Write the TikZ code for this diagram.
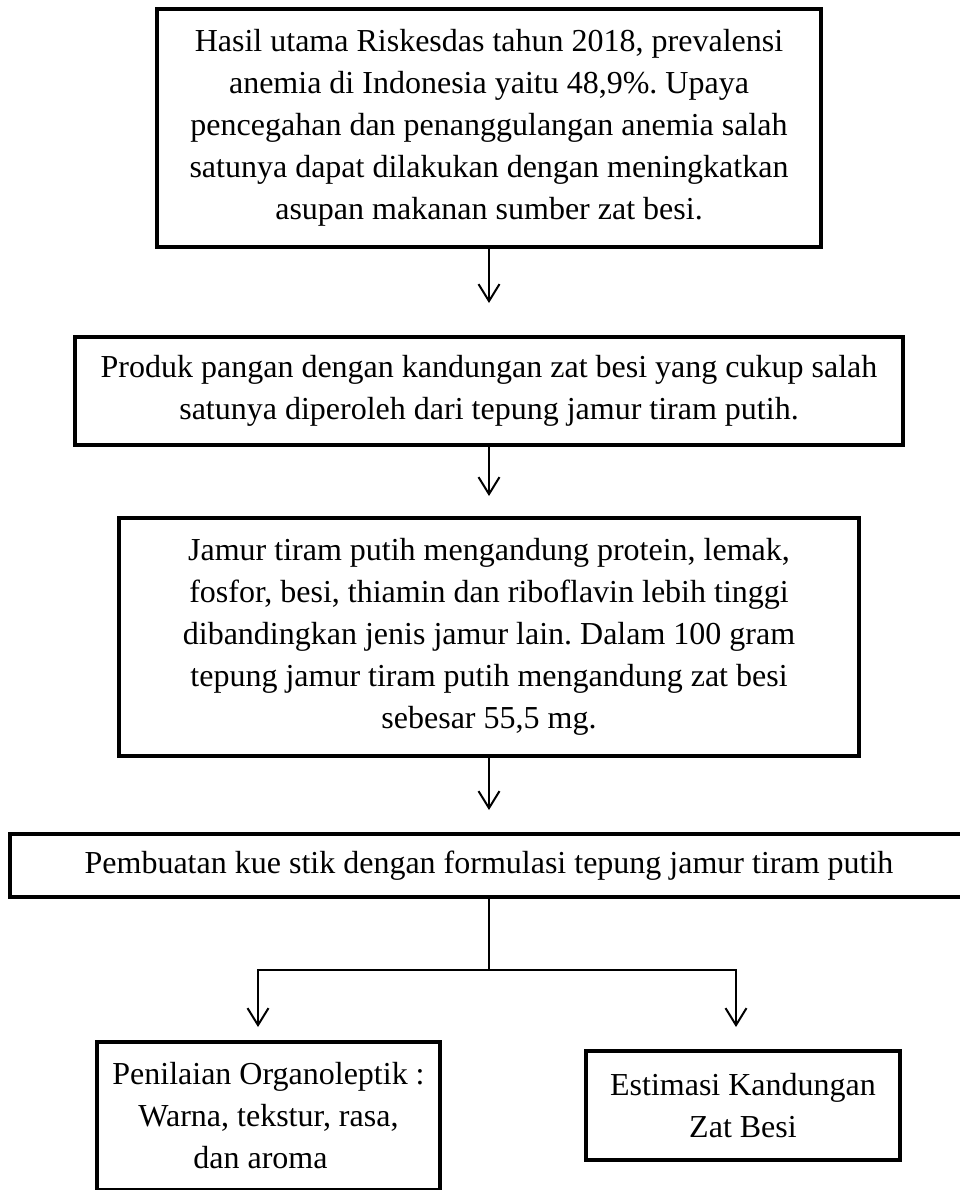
\documentclass[tikz,border=0pt]{standalone}
\usepackage{fontspec}
\setmainfont{Liberation Serif}
\usetikzlibrary{arrows.meta,positioning}
\frenchspacing

\begin{document}
\begin{tikzpicture}[x=1pt, y=-1pt,
    box/.style={draw, line width=4pt, align=center, inner sep=0pt,
      font=\fontsize{32}{42}\selectfont},
    flow/.style={line width=2pt, -{Straight Barb[length=17pt, width=21pt]}},
    link/.style={line width=2pt}]
  \useasboundingbox (0,0) rectangle (960,1190);
  % Main chain of boxes
  \node[box, minimum width=664pt, minimum height=238pt] (riskesdas) at (489,128)
    {Hasil utama Riskesdas tahun 2018, prevalensi\\ anemia di Indonesia yaitu 48,9\%. Upaya\\
     pencegahan dan penanggulangan anemia salah\\ satunya dapat dilakukan dengan meningkatkan\\
     asupan makanan sumber zat besi.};
  \node[box, minimum width=828pt, minimum height=108pt] (produk) at (489,391)
    {Produk pangan dengan kandungan zat besi yang cukup salah\\ satunya diperoleh dari tepung jamur tiram putih.};
  \node[box, minimum width=740pt, minimum height=238pt] (jamur) at (489,637)
    {Jamur tiram putih mengandung protein, lemak,\\ fosfor, besi, thiamin dan riboflavin lebih tinggi\\
     dibandingkan jenis jamur lain. Dalam 100 gram\\ tepung jamur tiram putih mengandung zat besi\\
     sebesar 55,5 mg.};
  \node[box, minimum width=958pt, minimum height=63pt] (kuestik) at (489,865.5)
    {Pembuatan kue stik dengan formulasi tepung jamur tiram putih};
  % Two outcome boxes
  \node[box, minimum width=343pt, minimum height=148pt] (organo) at (268.5,1116)
    {Penilaian Organoleptik :\\ Warna, tekstur, rasa,\\ dan aroma\hspace*{16pt}};
  \node[box, minimum width=314pt, minimum height=109pt] (besi) at (743,1105.5)
    {Estimasi Kandungan\\ Zat Besi};
  % Arrows between the boxes
  \draw[flow, shorten >=32pt] (riskesdas.south) -- (produk.north);
  \draw[flow, shorten >=20pt] (produk.south) -- (jamur.north);
  \draw[flow, shorten >=22pt] (jamur.south) -- (kuestik.north);
  % Split to the two outcomes
  \coordinate (split) at (489,970);
  \coordinate (splitL) at (258,970);
  \coordinate (splitR) at (736,970);
  \coordinate (tipL) at (258,1027);
  \coordinate (tipR) at (736,1027);
  \draw[link] (kuestik.south) -- (split);
  \draw[link, line cap=rect] (splitL) -- (splitR);
  \draw[flow] (splitL) -- (tipL);
  \draw[flow] (splitR) -- (tipR);
\end{tikzpicture}
\end{document}
